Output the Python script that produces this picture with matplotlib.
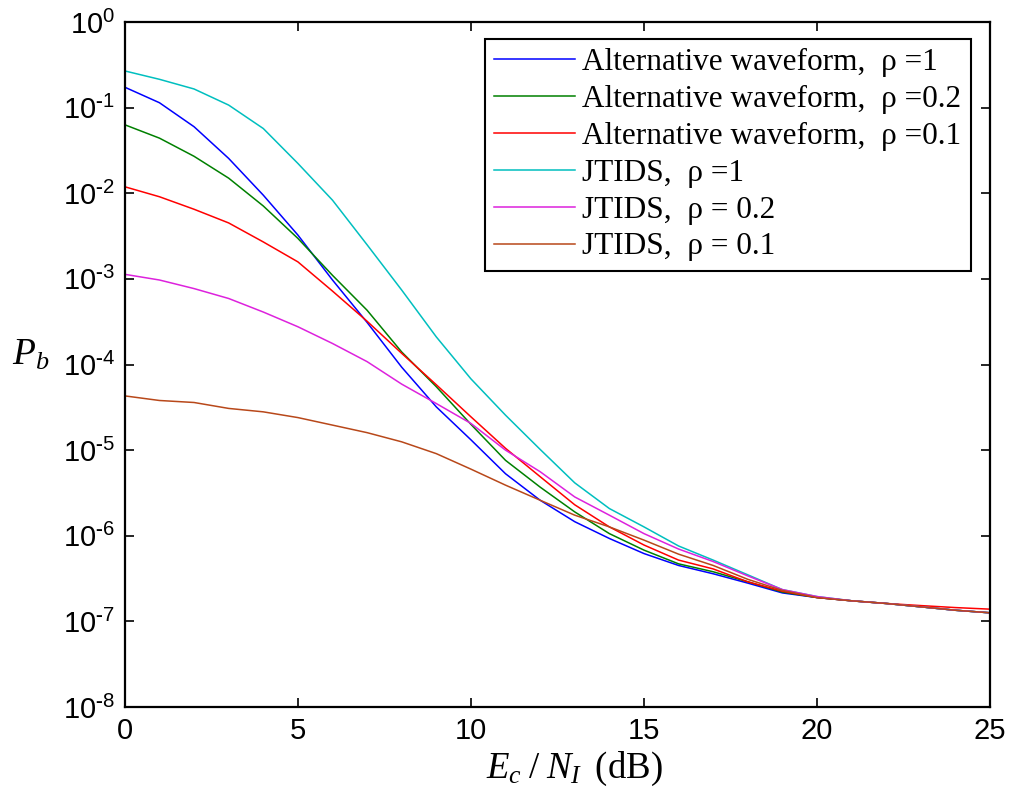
import numpy as np
import matplotlib
matplotlib.use("Agg")
import matplotlib.pyplot as plt

plt.rcParams['font.family'] = ['Liberation Sans', 'DejaVu Sans']
plt.rcParams['mathtext.fontset'] = 'custom'
plt.rcParams['mathtext.rm'] = 'Liberation Serif'
plt.rcParams['mathtext.it'] = 'Liberation Serif:italic'

# Ec/NI in dB
snr = list(range(0, 26))

# bit error probability
alt_rho1 = [1.73e-1, 1.14e-1, 5.98e-2, 2.55e-2, 9.5e-3, 3.25e-3, 9.7e-4, 3.1e-4, 9.3e-5, 3.2e-5,
            1.32e-5, 5.3e-6, 2.6e-6, 1.46e-6, 9.3e-7, 6.2e-7, 4.5e-7, 3.6e-7, 2.8e-7, 2.15e-7,
            1.9e-7, 1.74e-7, 1.62e-7, 1.48e-7, 1.35e-7, 1.26e-7]
alt_rho02 = [6.3e-2, 4.4e-2, 2.7e-2, 1.5e-2, 7.1e-3, 2.97e-3, 1.1e-3, 4.3e-4, 1.4e-4, 5.5e-5,
             2.0e-5, 7.6e-6, 3.7e-6, 1.9e-6, 1.06e-6, 6.8e-7, 4.7e-7, 3.8e-7, 2.9e-7, 2.2e-7,
             1.9e-7, 1.74e-7, 1.62e-7, 1.48e-7, 1.35e-7, 1.26e-7]
alt_rho01 = [1.19e-2, 9.1e-3, 6.5e-3, 4.5e-3, 2.7e-3, 1.58e-3, 7.2e-4, 3.2e-4, 1.35e-4, 5.8e-5,
             2.45e-5, 1.05e-5, 4.9e-6, 2.3e-6, 1.27e-6, 7.8e-7, 5.2e-7, 4.1e-7, 2.9e-7, 2.25e-7,
             1.9e-7, 1.74e-7, 1.62e-7, 1.53e-7, 1.45e-7, 1.39e-7]
jtids_rho1 = [2.68e-1, 2.14e-1, 1.65e-1, 1.07e-1, 5.7e-2, 2.23e-2, 8.3e-3, 2.5e-3, 7.4e-4, 2.1e-4,
              6.8e-5, 2.56e-5, 1.02e-5, 4.15e-6, 2.08e-6, 1.27e-6, 7.6e-7, 5.2e-7, 3.5e-7, 2.35e-7,
              1.95e-7, 1.74e-7, 1.62e-7, 1.48e-7, 1.35e-7, 1.26e-7]
jtids_rho02 = [1.13e-3, 9.7e-4, 7.7e-4, 5.9e-4, 4.1e-4, 2.76e-4, 1.76e-4, 1.08e-4, 5.9e-5, 3.5e-5,
               2.05e-5, 1.0e-5, 5.6e-6, 2.84e-6, 1.74e-6, 1.06e-6, 7.0e-7, 5.0e-7, 3.4e-7, 2.35e-7,
               1.95e-7, 1.74e-7, 1.62e-7, 1.48e-7, 1.35e-7, 1.26e-7]
jtids_rho01 = [4.3e-5, 3.8e-5, 3.6e-5, 3.07e-5, 2.8e-5, 2.4e-5, 1.96e-5, 1.6e-5, 1.25e-5, 9.1e-6,
               6.0e-6, 3.9e-6, 2.6e-6, 1.74e-6, 1.27e-6, 8.9e-7, 6.1e-7, 4.5e-7, 3.1e-7, 2.3e-7,
               1.9e-7, 1.74e-7, 1.62e-7, 1.48e-7, 1.35e-7, 1.26e-7]

labels = ["Alternative waveform,  \u03c1 =1",
          "Alternative waveform,  \u03c1 =0.2",
          "Alternative waveform,  \u03c1 =0.1",
          "JTIDS,  \u03c1 =1",
          "JTIDS,  \u03c1 = 0.2",
          "JTIDS,  \u03c1 = 0.1"]
colors = ['#0000ff', '#008000', '#ff0000', '#00bfbf', '#dd22dd', '#b8481a']
series = [alt_rho1, alt_rho02, alt_rho01, jtids_rho1, jtids_rho02, jtids_rho01]


def decade_label(v, pos):
    # matlab style 10^-n with a plain hyphen
    e = int(round(np.log10(v)))
    if e < 0:
        return r"$\mathdefault{10^{\text{-}%d}}$" % (-e)
    return r"$\mathdefault{10^{%d}}$" % e


fig = plt.figure(figsize=(10.15, 7.99), dpi=100)
ax = fig.add_axes([0.123, 0.1151, 0.8524, 0.8574])

for y, c, lab in zip(series, colors, labels):
    ax.semilogy(snr, y, color=c, lw=1.1, label=lab)

ax.set_xlim(0, 25)
ax.set_ylim(1e-8, 1)
ax.set_xticks([0, 5, 10, 15, 20, 25])
ax.set_yticks([10.0**k for k in range(-8, 1)])
ax.yaxis.set_minor_locator(matplotlib.ticker.NullLocator())
ax.yaxis.set_major_formatter(matplotlib.ticker.FuncFormatter(decade_label))
ax.tick_params(axis='both', which='major', direction='in', length=6.5, width=1.2,
               top=True, right=True, labelsize=21, pad=7)
for s in ax.spines.values():
    s.set_linewidth(1.6)

ax.set_xlabel(r"$E_c\;/\;N_I\;\;$(dB)", fontsize=26.5, family='Liberation Serif')
ax.xaxis.set_label_coords(0.52, -0.063)
fig.text(0.012, 0.556, r"$P_b$", fontsize=27, ha='left', va='center')

leg = ax.legend(loc='upper right', bbox_to_anchor=(971 / 1015, 1 - 39 / 799),
                bbox_transform=fig.transFigure, borderaxespad=0, fancybox=False,
                prop={'family': 'Liberation Serif', 'size': 22.5},
                handlelength=2.6, handletextpad=0.23, labelspacing=0.25,
                borderpad=0.3, framealpha=1)
leg.get_frame().set_edgecolor('black')
leg.get_frame().set_linewidth(1.5)

fig.savefig("out.png", dpi=100)
